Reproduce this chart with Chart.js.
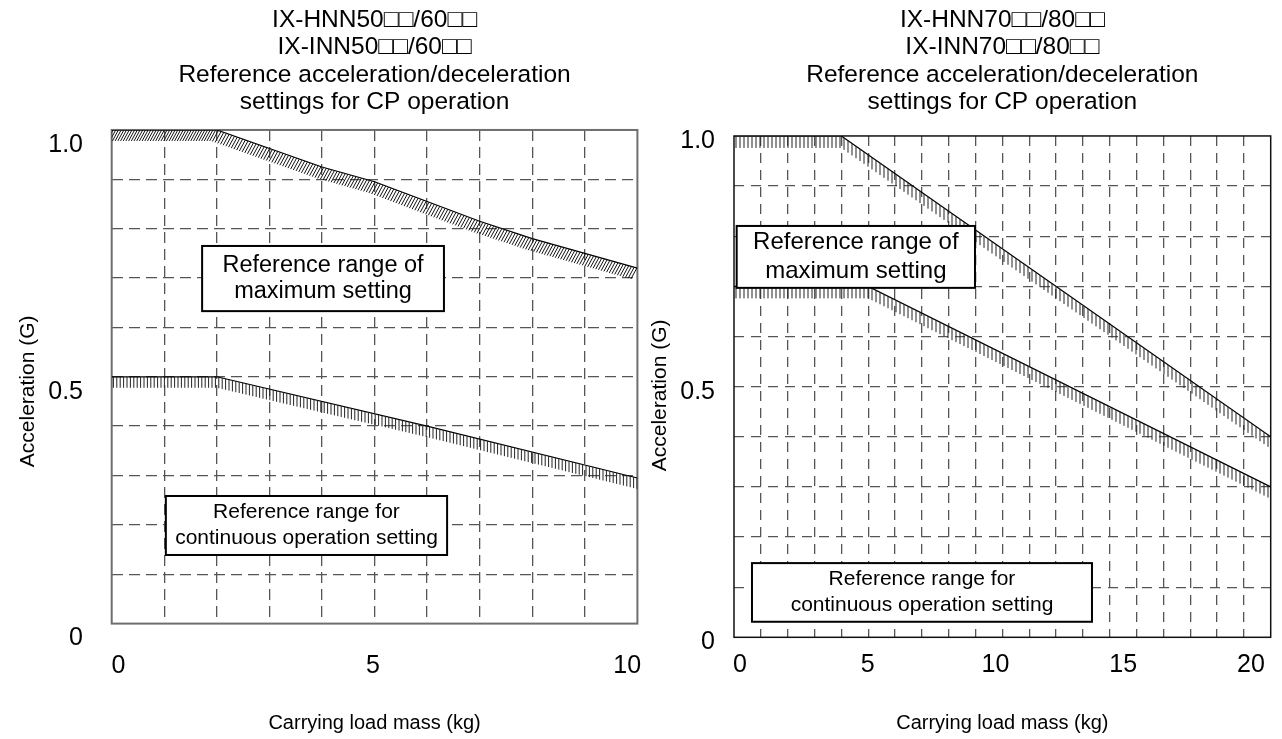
<!DOCTYPE html>
<html>
<head>
<meta charset="utf-8">
<script src="https://cdn.jsdelivr.net/npm/chart.js@4.4.1/dist/chart.umd.min.js"></script>
<style>
  body { margin: 0; background: #fff; }
  canvas { position: absolute; top: 0; }
  #left { left: 0; }
  #right { left: 645px; }
</style>
</head>
<body>
<canvas id="left" width="645" height="739"></canvas>
<canvas id="right" width="637" height="739"></canvas>
<script>
const FONT = '"Liberation Sans", Arial, sans-serif';

// titles
const leftTitle = ['IX-HNN50□□/60□□', 'IX-INN50□□/60□□', 'Reference acceleration/deceleration', 'settings for CP operation'];
const rightTitle = ['IX-HNN70□□/80□□', 'IX-INN70□□/80□□', 'Reference acceleration/deceleration', 'settings for CP operation'];
const yTitle = 'Acceleration (G)';
const xTitle = 'Carrying load mass (kg)';

// left graph (50/60): maximum setting and continuous operation setting
const leftMassMax = [0, 2, 4, 5, 6, 7, 8, 9, 10];
const leftAccMax = [1.0, 1.0, 0.925, 0.895, 0.855, 0.815, 0.78, 0.75, 0.72];
const leftMassCont = [0, 2, 6, 10];
const leftAccCont = [0.5, 0.5, 0.4, 0.295];

// right graph (70/80)
const rightMassMax = [0, 4, 20];
const rightAccMax = [1.0, 1.0, 0.4];
const rightMassCont = [0, 5, 20];
const rightAccCont = [0.7, 0.7, 0.3];

// ticks
const accTicks = [0, 0.1, 0.2, 0.3, 0.4, 0.5, 0.6, 0.7, 0.8, 0.9, 1.0];
const accLabels = [0, 0.5, 1.0];
const leftMassGrid = [1, 2, 3, 4, 5, 6, 7, 8, 9];
const rightMassGrid = [1, 2, 3, 4, 5, 6, 7, 8, 9, 10, 11, 12, 13, 14, 15, 16, 17, 18, 19];
const leftMassLabels = [0, 5, 10];
const rightMassLabels = [0, 5, 10, 15, 20];

const pts = (xs, ys) => xs.map((x, i) => ({ x: x, y: ys[i] }));

// box round the plot area
const framePlugin = {
	id: 'frame',
	beforeDatasetsDraw(chart, args, opts) {
		const { ctx, chartArea: a } = chart;
		ctx.save();
		ctx.strokeStyle = opts.color;
		ctx.lineWidth = opts.width;
		ctx.strokeRect(a.left, a.top, a.right - a.left, a.bottom - a.top);
		ctx.restore();
	}
};

// short hatch strokes hanging under each line
const hatchPlugin = {
	id: 'hatch',
	afterDatasetsDraw(chart) {
		const { ctx, chartArea: a } = chart;
		chart.data.datasets.forEach((ds, i) => {
			const h = ds.hatch;
			if (!h) return;
			const p = chart.getDatasetMeta(i).data;
			ctx.save();
			ctx.beginPath();
			ctx.rect(a.left, a.top, a.right - a.left, a.bottom - a.top);
			ctx.clip();
			ctx.strokeStyle = h.color;
			ctx.lineWidth = h.width;
			ctx.beginPath();
			let x = p[0].x + h.step / 2;
			for (let k = 0; k < p.length - 1; k++) {
				const s = p[k], e = p[k + 1];
				for (; x < e.x; x += h.step) {
					const y = s.y + (e.y - s.y) * (x - s.x) / (e.x - s.x);
					ctx.moveTo(x, y);
					ctx.lineTo(x - h.dx, y + h.len);
				}
			}
			ctx.stroke();
			ctx.restore();
		});
	}
};

// framed text notes, placed in data units
const notesPlugin = {
	id: 'notes',
	afterDatasetsDraw(chart, args, opts) {
		const { ctx, scales: { x, y } } = chart;
		opts.boxes.forEach(b => {
			const l = x.getPixelForValue(b.x0), r = x.getPixelForValue(b.x1);
			const t = y.getPixelForValue(b.y0), bt = y.getPixelForValue(b.y1);
			ctx.save();
			ctx.fillStyle = '#fff';
			ctx.fillRect(l, t, r - l, bt - t);
			ctx.strokeStyle = '#000';
			ctx.lineWidth = 2;
			ctx.strokeRect(l, t, r - l, bt - t);
			ctx.fillStyle = '#000';
			ctx.font = b.size + 'px ' + FONT;
			ctx.textAlign = 'center';
			ctx.textBaseline = 'middle';
			const cy = (t + bt) / 2 - (b.lines.length - 1) * b.gap / 2;
			b.lines.forEach((s, j) => ctx.fillText(s, (l + r) / 2, cy + j * b.gap));
			ctx.restore();
		});
	}
};

function makeChart(id, c) {
	const line = { borderColor: '#000', borderWidth: 1.2, pointRadius: 0, tension: 0, fill: false };
	return new Chart(document.getElementById(id), {
		type: 'line',
		data: {
			datasets: [
				Object.assign({ data: pts(c.massMax, c.accMax), hatch: c.hatchMax }, line),
				Object.assign({ data: pts(c.massCont, c.accCont), hatch: c.hatchCont }, line)
			]
		},
		options: {
			responsive: false,
			animation: false,
			devicePixelRatio: 1,
			layout: { padding: { left: 0, right: c.padRight, top: 0, bottom: 0 } },
			plugins: {
				legend: { display: false },
				tooltip: { enabled: false },
				title: {
					display: true,
					fullSize: false,
					text: c.title,
					color: '#000',
					font: { family: FONT, size: 24.5, weight: 'normal', lineHeight: 1.12 },
					padding: { top: 6.5, bottom: c.titleGap }
				},
				frame: { color: c.frameColor, width: c.frameWidth },
				notes: { boxes: c.boxes }
			},
			scales: {
				x: {
					type: 'linear',
					min: 0,
					max: c.xMax,
					afterBuildTicks: s => { s.ticks = c.massGrid.map(v => ({ value: v })); },
					afterFit: s => { s.height = 0; },
					ticks: { display: false },
					grid: { color: '#555', lineWidth: 1.3, drawTicks: false },
					border: { display: false, dash: c.dash }
				},
				xl: {
					type: 'linear',
					position: 'bottom',
					min: c.labelRange[0],
					max: c.labelRange[1],
					afterBuildTicks: s => { s.ticks = c.massLabels.map(v => ({ value: v })); },
					afterFit: s => { s.height = c.xAxisHeight; },
					grid: { display: true, drawOnChartArea: false, drawTicks: true, tickLength: c.xLabelGap, tickColor: 'rgba(0,0,0,0)' },
					border: { display: false },
					ticks: { color: '#000', font: { family: FONT, size: 25 }, padding: 0, maxRotation: 0, autoSkip: false },
					title: {
						display: true,
						text: xTitle,
						color: '#000',
						font: { family: FONT, size: 20 },
						padding: { top: 0, bottom: 4 }
					}
				},
				y: {
					type: 'linear',
					min: 0,
					max: 1,
					afterBuildTicks: s => { s.ticks = accTicks.map(v => ({ value: v })); },
					afterFit: s => { s.width = c.yAxisWidth; },
					grid: {
						color: g => (g.tick && (g.tick.value === 0 || g.tick.value === 1)) ? 'rgba(0,0,0,0)' : '#555',
						lineWidth: 1.3,
						drawTicks: false
					},
					border: { display: false, dash: c.dash },
					ticks: {
						color: '#000',
						font: { family: FONT, size: 25 },
						padding: c.yLabelPad,
						labelOffset: c.yLabelOffset,
						autoSkip: false,
						callback: v => accLabels.includes(v) ? (v === 0 ? '0' : v.toFixed(1)) : ''
					},
					title: {
						display: true,
						// trailing spaces push the rotated text down to sit level with the 0.5 label
						text: yTitle + ' '.repeat(c.yTitleShift),
						color: '#000',
						font: { family: FONT, size: 21 },
						padding: { top: c.yTitlePad, bottom: 0 }
					}
				}
			}
		},
		plugins: [framePlugin, hatchPlugin, notesPlugin]
	});
}

makeChart('left', {
	title: leftTitle,
	massMax: leftMassMax, accMax: leftAccMax,
	massCont: leftMassCont, accCont: leftAccCont,
	massGrid: leftMassGrid, massLabels: leftMassLabels,
	xMax: 10,
	labelRange: [-0.134, 10.2],
	padRight: 7.6,
	titleGap: 13.7,
	xAxisHeight: 115.4,
	xLabelGap: 28,
	yAxisWidth: 111.7,
	yLabelPad: 28.7,
	yLabelOffset: 15,
	yTitlePad: 15.5,
	yTitleShift: 5,
	dash: [11, 6],
	frameColor: '#6e6e6e',
	frameWidth: 2,
	hatchMax: { dx: 6, len: 11, step: 2.7, color: '#111', width: 1 },
	hatchCont: { dx: 0, len: 11, step: 3.4, color: '#222', width: 1 },
	boxes: [
		{ x0: 1.72, x1: 6.32, y0: 0.765, y1: 0.633, lines: ['Reference range of', 'maximum setting'], size: 23.5, gap: 26.7 },
		{ x0: 1.03, x1: 6.38, y0: 0.2585, y1: 0.139, lines: ['Reference range for', 'continuous operation setting'], size: 21, gap: 26 }
	]
});

makeChart('right', {
	title: rightTitle,
	massMax: rightMassMax, accMax: rightAccMax,
	massCont: rightMassCont, accCont: rightAccCont,
	massGrid: rightMassGrid, massLabels: rightMassLabels,
	xMax: 20,
	labelRange: [-0.235, 20.77],
	padRight: 11.3,
	titleGap: 19.7,
	xAxisHeight: 101.7,
	xLabelGap: 13,
	yAxisWidth: 89,
	yLabelPad: 19,
	yLabelOffset: 5,
	yTitlePad: 2.4,
	yTitleShift: 3,
	dash: [10, 7],
	frameColor: '#111',
	frameWidth: 1.5,
	hatchMax: { dx: 0, len: 12, step: 4, color: '#222', width: 1 },
	hatchCont: { dx: 0, len: 12, step: 4, color: '#222', width: 1 },
	boxes: [
		{ x0: 0.1, x1: 8.98, y0: 0.8205, y1: 0.697, lines: ['Reference range of', 'maximum setting'], size: 24, gap: 28.3 },
		{ x0: 0.67, x1: 13.34, y0: 0.148, y1: 0.031, lines: ['Reference range for', 'continuous operation setting'], size: 21, gap: 26 }
	]
});
</script>
</body>
</html>
